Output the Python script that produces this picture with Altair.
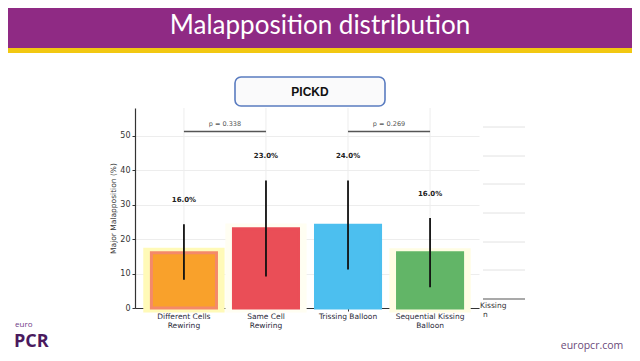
import altair as alt
import pandas as pd

# ---- data ----
categories = ["Different Cells\nRewiring", "Same Cell\nRewiring", "Trissing Balloon", "Sequential Kissing\nBalloon"]
values = [16.0, 23.0, 24.0, 16.0]
err_low = [8.2, 9.1, 11.2, 6.0]
err_high = [24.3, 37.0, 37.0, 26.1]
value_labels = ["16.0%", "23.0%", "24.0%", "16.0%"]
label_level = [31.2, 44.2, 44.2, 33.1]
bar_colors = ["#F9A12B", "#EA4E57", "#4CBFEF", "#62B567"]
bar_strokes = ["#F4896A", "#EA4E57", "#4CBFEF", "#62B567"]
halo_top = [17.5, 24.5, 0.0, 17.3]
halo_bottom = [-1.3, -1.3, 0.0, -1.3]
halo_colors = ["#FFFAB8", "#FFFEF2", "#FFFFFF", "#FFFDE3"]
grid_top = [58, 58, 58, 58]
grid_bottom = [0, 0, 0, 0]

p_left = [categories[0], categories[2]]
p_right = [categories[1], categories[3]]
p_texts = ["p = 0.338", "p = 0.269"]
p_level = [51.2, 51.2]
p_text_level = [53.4, 53.4]

y_ticks = [0, 10, 20, 30, 40, 50]
ghost_lines = [19, 48, 76, 105, 134, 162]

df = pd.DataFrame({
    "cat": categories, "value": values, "lo": err_low, "hi": err_high,
    "lab": value_labels, "lab_y": label_level, "color": bar_colors,
    "stroke": bar_strokes, "halo": halo_top, "halo_b": halo_bottom,
    "halo_c": halo_colors, "g_top": grid_top, "g_bot": grid_bottom,
})
pdf = pd.DataFrame({"a": p_left, "b": p_right, "t": p_texts, "y": p_level, "ty": p_text_level})
one = pd.DataFrame({"k": [0]})

FONT = "DejaVu Sans"
W, H = 344, 200

xscale = alt.Scale(domain=categories, paddingInner=0.207, paddingOuter=0.2)
yscale = alt.Scale(domain=[0, 58], nice=False, zero=True)

x_axis = alt.Axis(
    title=None, labelAngle=0, labelExpr="split(datum.label, '\\n')",
    labelFontSize=7.5, labelColor="#2A2A3A", labelFont=FONT, labelLineHeight=9,
    tickSize=3, tickColor="#333", domainColor="#333", domainWidth=1.2,
    labelPadding=1, grid=False,
)
y_axis = alt.Axis(
    values=y_ticks, title="Major Malapposition (%)", titleFont=FONT,
    titleFontSize=7.5, titleFontWeight="normal", titleColor="#333",
    titlePadding=2, labelFont=FONT, labelFontSize=8, labelColor="#333",
    labelPadding=2, tickSize=3, tickColor="#333", domainColor="#333",
    domainWidth=1.2, grid=True, gridColor="#EDEDED", labelOverlap=False,
)


def X(field):
    return alt.X(field, scale=xscale, axis=x_axis)


def Y(field):
    return alt.Y(field, scale=yscale, axis=y_axis)


base = alt.Chart(df)

vgrid = base.mark_rule(color="#EDEDED", strokeWidth=1).encode(
    x=X("cat:N"), y=Y("g_bot:Q"), y2="g_top:Q",
)

halo = base.mark_bar(width=alt.RelativeBandSize(1.25)).encode(
    x=X("cat:N"), y=Y("halo:Q"), y2="halo_b:Q",
    color=alt.Color("halo_c:N", scale=None),
)

bars = base.mark_bar(strokeWidth=3).encode(
    x=X("cat:N"), y=Y("value:Q"),
    color=alt.Color("color:N", scale=None),
    stroke=alt.Stroke("stroke:N", scale=None),
)

errs = base.mark_rule(color="#111", strokeWidth=1.8).encode(
    x=X("cat:N"), y=Y("lo:Q"), y2="hi:Q",
)

labels = base.mark_text(fontWeight="bold", fontSize=7, font=FONT, color="#222").encode(
    x=X("cat:N"), y=Y("lab_y:Q"), text="lab:N",
)

brackets = alt.Chart(pdf).mark_rule(color="#555", strokeWidth=1.5).encode(
    x=X("a:N"), x2="b:N", y=Y("y:Q"),
)
ptext = alt.Chart(pdf).mark_text(dx=41, fontSize=6.5, font=FONT, color="#555").encode(
    x=X("a:N"), y=Y("ty:Q"), text="t:N",
)

# ---- slide decorations (pixel positions relative to plot origin) ----
deco = alt.Chart(one)
purple = deco.mark_rect(color="#8F2A84").encode(
    x=alt.value(-130), x2=alt.value(500), y=alt.value(-103), y2=alt.value(-60))
yellow = deco.mark_rect(color="#F2C811").encode(
    x=alt.value(-130), x2=alt.value(500), y=alt.value(-60), y2=alt.value(-55))
title = deco.mark_text(text="Malapposition distribution", font="Lato", fontSize=26,
                       color="white", baseline="middle").encode(
    x=alt.value(185), y=alt.value(-82))
box = deco.mark_rect(cornerRadius=6, fill="#FAFAFB", stroke="#5A7CC0", strokeWidth=1.6).encode(
    x=alt.value(100), x2=alt.value(250), y=alt.value(-31), y2=alt.value(-2))
box_text = deco.mark_text(text="PICKD", font="Liberation Sans", fontWeight="bold",
                          fontSize=12, color="#111", baseline="middle").encode(
    x=alt.value(175), y=alt.value(-16))

ghost_df = pd.DataFrame({"gy": ghost_lines})
ghost = alt.Chart(ghost_df).mark_rule(color="#E2E2E2", strokeWidth=1).encode(
    x=alt.value(348), x2=alt.value(390), y=alt.Y("gy:Q", scale=None))
ghost_axis = deco.mark_rule(color="#555", strokeWidth=1.2).encode(
    x=alt.value(348), x2=alt.value(390), y=alt.value(191))
ghost_t1 = deco.mark_text(text="Kissing", font=FONT, fontSize=7.5, color="#333",
                          align="left", baseline="middle").encode(
    x=alt.value(345), y=alt.value(198))
ghost_t2 = deco.mark_text(text="n", font=FONT, fontSize=7.5, color="#333",
                          align="left", baseline="middle").encode(
    x=alt.value(348), y=alt.value(207))

euro = deco.mark_text(text="euro", font="Open Sans", fontSize=8, color="#6E3A86",
                      align="left", baseline="alphabetic").encode(
    x=alt.value(-120), y=alt.value(219))
pcr = deco.mark_text(text="PCR", font="Open Sans", fontWeight="bold", fontSize=18,
                     color="#4A1A5E", align="left", baseline="alphabetic").encode(
    x=alt.value(-121), y=alt.value(239))
site = deco.mark_text(text="europcr.com", font="Open Sans", fontSize=10.5, color="#6B4A7A",
                      align="center", baseline="middle").encode(
    x=alt.value(457), y=alt.value(238))

chart = alt.layer(
    purple, yellow, title, box, box_text,
    vgrid, halo, bars, errs, labels, brackets, ptext,
    ghost, ghost_axis, ghost_t1, ghost_t2, euro, pcr, site,
).properties(
    width=W, height=H,
    autosize=alt.AutoSizeParams(type="none"),
    padding={"left": 127, "top": 100, "right": 153, "bottom": 45},
    background="white",
).configure_view(stroke=None)

chart.save("out.html", embed_options={"renderer": "svg", "actions": False})
